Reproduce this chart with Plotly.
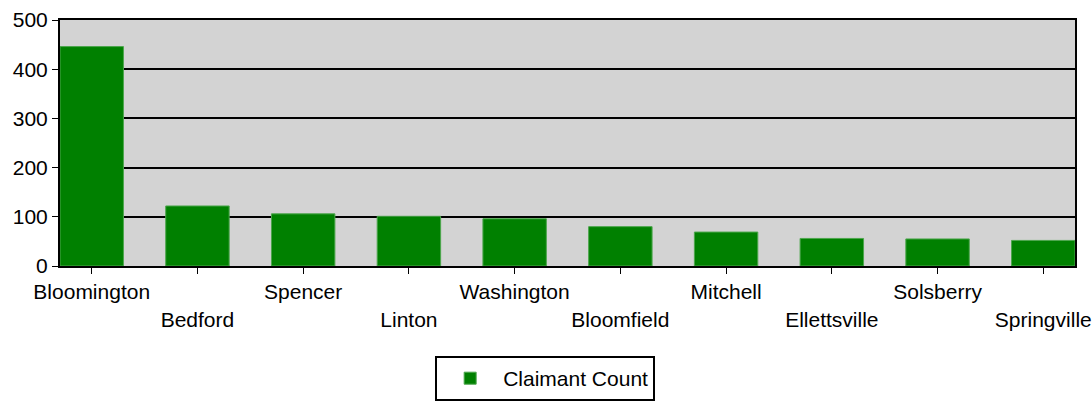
import plotly.graph_objects as go

cities = ["Bloomington", "Bedford", "Spencer", "Linton", "Washington",
          "Bloomfield", "Mitchell", "Ellettsville", "Solsberry", "Springville"]
claimants = [446, 122, 106, 101, 96, 80, 69, 56, 55, 52]
y_ticks = [0, 100, 200, 300, 400, 500]
series_name = "Claimant Count"

tick_text = [c if i % 2 == 0 else "<br>" + c for i, c in enumerate(cities)]

fig = go.Figure()
fig.add_trace(go.Bar(
    x=cities, y=claimants, name=series_name,
    marker=dict(color="#008000", line=dict(color="#4CA64C", width=1)),
    showlegend=True,
))

font = dict(family="Arial, Liberation Sans, sans-serif", size=21, color="black")

fig.update_layout(
    width=1092, height=404, autosize=False,
    margin=dict(l=60, r=17, t=20, b=138, autoexpand=False),
    paper_bgcolor="white", plot_bgcolor="#D3D3D3",
    font=font,
    bargap=0.4,
    showlegend=True,
    legend=dict(
        x=0.478, xanchor="center", y=-0.366, yanchor="top",
        bordercolor="black", borderwidth=2, bgcolor="white",
        itemwidth=56,
        font=font,
    ),
    xaxis=dict(
        tickmode="array", tickvals=cities, ticktext=tick_text,
        range=[-0.3, 9.3], tickangle=0, automargin=False,
        showline=True, linecolor="black", linewidth=2, mirror=True,
        ticks="outside", ticklen=6, tickcolor="black", tickwidth=1,
        showgrid=False, tickfont=font,
    ),
    yaxis=dict(
        range=[0, 500], tickvals=y_ticks, automargin=False,
        showline=True, linecolor="black", linewidth=2, mirror=True,
        ticks="outside", ticklen=6, tickcolor="black", tickwidth=1,
        showgrid=True, gridcolor="black", gridwidth=1.5,
        zeroline=False, tickfont=font,
    ),
)

fig.write_html(
    "out.html",
    config={"displayModeBar": False},
    post_script="document.body.style.margin='0';document.body.style.overflow='hidden';",
)
